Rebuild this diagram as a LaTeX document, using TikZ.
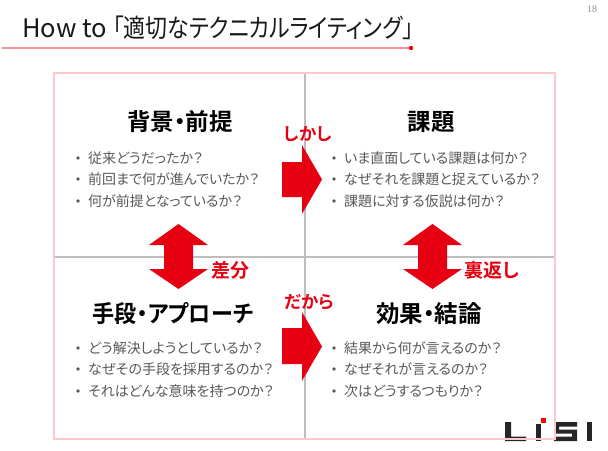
\documentclass[tikz,border=0pt]{standalone}
\usepackage{fontspec}
\usepackage{graphicx}
\setmainfont[BoldFont={Noto Sans CJK JP Bold},RawFeature={+palt}]{Noto Sans CJK JP}
\newfontfamily\serifnum{Liberation Serif}
\definecolor{lisired}{RGB}{230,0,18}
\definecolor{framepink}{RGB}{255,199,206}
\definecolor{rulepink}{RGB}{250,150,155}
\definecolor{gridgray}{RGB}{190,190,190}
\definecolor{bodygray}{RGB}{89,89,89}
\tikzset{x=1pt,y=-1pt,
  heading/.style={font=\fontsize{23.5}{23.5}\selectfont\bfseries,text=black,inner sep=0pt},
  redlabel/.style={font=\fontsize{17.5}{17.5}\selectfont\bfseries,text=lisired,inner sep=0pt},
  redlabelbig/.style={font=\fontsize{19}{19}\selectfont\bfseries,text=lisired,inner sep=0pt},
  bullet/.style={font=\fontsize{14}{14}\selectfont,text=bodygray,anchor=west,inner sep=0pt},
  redshape/.style={fill=lisired,draw=none},
  logo/.style={fill=black!85,draw=none}}
\newcommand{\bulletrow}[4]{%
  \fill[bodygray] (#1,#2) circle (1.8);
  \node[bullet] (#3) at (#1+10,#2) {#4};}
\begin{document}
\begin{tikzpicture}
\useasboundingbox (0,0) rectangle (608,450);
\fill[white] (0,0) rectangle (608,450);
% title
\node[anchor=west,inner sep=0pt,font=\fontsize{25.5}{26}\selectfont,text=black!90] (title) at (22,28) {How to \scalebox{0.86}[1]{「適切なテクニカルライティング」}};
\draw[rulepink,line width=1.2pt] (2,48) -- (411,48);
\fill[red] (411,48) circle (2.2);
\node[font=\serifnum\fontsize{10}{10}\selectfont,text=black!45,inner sep=0pt] (pageno) at (592,9) {18};
% logo
\fill[logo] (505,422) rectangle (511,441) (505,436.5) rectangle (526,441);
\fill[logo] (536,424) rectangle (541,441);
\fill[red] (541,418) rectangle (546,423);
\fill[logo] (554,422) rectangle (577,426.5) (554,422) rectangle (559,433.5) (554,429.5) rectangle (577,433.5) (572,429.5) rectangle (577,441) (554,436.5) rectangle (577,441);
\fill[logo] (587,422) rectangle (592,441);
% frame
\draw[gridgray,line width=1.2pt] (305,73) -- (305,439) (54,257) -- (555,257);
\draw[framepink,line width=1.6pt] (54,73) rectangle (555,439);
% headings
\node[heading] (h1) at (180,122) {背景・前提};
\node[heading] (h2) at (431,122) {課題};
\node[heading] (h3) at (173,314) {\scalebox{0.94}[1]{手段・アプローチ}};
\node[heading] (h4) at (429,314) {効果・結論};
% bullets
\bulletrow{78}{158}{a1}{従来どうだったか？}
\bulletrow{78}{179}{a2}{前回まで何が進んでいたか？}
\bulletrow{78}{201}{a3}{何が前提となっているか？}
\bulletrow{334}{158}{b1}{いま直面している課題は何か？}
\bulletrow{334}{179}{b2}{なぜそれを課題と捉えているか？}
\bulletrow{334}{201}{b3}{課題に対する仮説は何か？}
\bulletrow{78}{348}{c1}{どう解決しようとしているか？}
\bulletrow{78}{369}{c2}{なぜその手段を採用するのか？}
\bulletrow{78}{391}{c3}{それはどんな意味を持つのか？}
\bulletrow{334}{348}{d1}{結果から何が言えるのか？}
\bulletrow{334}{369}{d2}{なぜそれが言えるのか？}
\bulletrow{334}{391}{d3}{次はどうするつもりか？}
% arrows
\fill[redshape] (282,162) -- (302,162) -- (302,145) -- (322,179.5) -- (302,214) -- (302,197) -- (282,197) -- cycle;
\fill[redshape] (282,328) -- (302,328) -- (302,312) -- (322,346.5) -- (302,381) -- (302,364) -- (282,364) -- cycle;
\fill[redshape] (178.5,224) -- (208,245) -- (193,245) -- (193,269) -- (208,269) -- (178.5,289) -- (149,269) -- (164,269) -- (164,245) -- (149,245) -- cycle;
\fill[redshape] (432.5,224) -- (462,245) -- (447,245) -- (447,269) -- (462,269) -- (432.5,289) -- (403,269) -- (418,269) -- (418,245) -- (403,245) -- cycle;
% labels
\node[redlabel] (l1) at (308,134) {しかし};
\node[redlabelbig] (l2) at (230.5,270) {差分};
\node[redlabel] (l3) at (309,302) {だから};
\node[redlabelbig] (l4) at (492,270) {裏返し};
\end{tikzpicture}
\end{document}
